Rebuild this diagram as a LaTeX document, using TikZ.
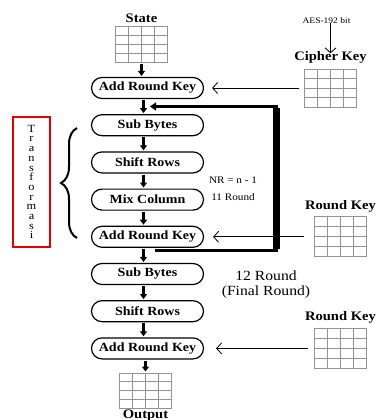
\documentclass[tikz,border=0pt]{standalone}
\usepackage{fontspec}
\setmainfont{Liberation Serif}[FakeStretch=1.12]
\usepackage{tikz}
\usetikzlibrary{arrows.meta,positioning,calc,shapes.misc,decorations.pathreplacing}

\begin{document}
\begin{tikzpicture}[
        x=1pt, y=-1pt,
        node distance=15pt,
        pill/.style={rounded rectangle, draw, line width=1.2pt, minimum width=112pt, minimum height=21pt, inner sep=0pt, font=\fontsize{12.5}{14}\selectfont\bfseries},
        lbl/.style={inner sep=0pt, font=\fontsize{13}{15}\selectfont\bfseries},
        keygrid/.style={draw=gray!85, line width=0.8pt, minimum width=52pt, minimum height=38pt, inner sep=0pt,
            path picture={\foreach \f in {0.25,0.5,0.75}{
                \draw[gray!85, line width=0.8pt] ($(path picture bounding box.south west)!\f!(path picture bounding box.south east)$) -- ($(path picture bounding box.north west)!\f!(path picture bounding box.north east)$);
                \draw[gray!85, line width=0.8pt] ($(path picture bounding box.south west)!\f!(path picture bounding box.north west)$) -- ($(path picture bounding box.south east)!\f!(path picture bounding box.north east)$);}}},
        down/.style={-{Triangle[length=5pt,width=7pt]}, line width=2.2pt, shorten >=1pt, shorten <=1pt},
        keyline/.style={-{Straight Barb[length=5pt,width=11pt]}, line width=0.8pt},
        loopline/.style={line width=3pt, line join=miter}
    ]
        \useasboundingbox (0,0) rectangle (377,420);
        % main column
        \node[pill] (ark1) at (147.5,88) {Add Round Key};
        \node[pill, below=of ark1] (sb1) {Sub Bytes};
        \node[pill, below=of sb1] (sr1) {Shift Rows};
        \node[pill, below=of sr1] (mc) {Mix Column};
        \node[pill, below=of mc] (ark2) {Add Round Key};
        \node[pill, below=of ark2] (sb2) {Sub Bytes};
        \node[pill, below=of sb2] (sr2) {Shift Rows};
        \node[pill, below=of sr2] (ark3) {Add Round Key};
        \node[keygrid, minimum height=36pt, above=14pt of ark1, xshift=-6pt] (sgrid) {};
        \node[lbl, above=3pt of sgrid] (state) {State};
        \node[keygrid, minimum height=35pt, below=13pt of ark3, xshift=-2pt] (ogrid) {};
        \node[lbl, below=1.5pt of ogrid] (output) {Output};
        % keys
        \node[keygrid, right=100pt of ark1] (ckgrid) {};
        \node[lbl, above=5pt of ckgrid] (ckey) {Cipher Key};
        \node[inner sep=0pt, font=\fontsize{8.5}{10}\selectfont, above=28pt of ckey, xshift=-4pt] (aes) {AES-192 bit};
        \node[keygrid, minimum height=40pt, right=110pt of ark2] (rk1grid) {};
        \node[lbl, above=4pt of rk1grid] (rk1) {Round Key};
        \node[keygrid, minimum height=40pt, right=110pt of ark3] (rk2grid) {};
        \node[lbl, above=4pt of rk2grid] (rk2) {Round Key};
        % round notes
        \node[inner sep=0pt, font=\fontsize{10}{12}\selectfont] (nr) at (233,180) {NR = n - 1};
        \node[inner sep=0pt, font=\fontsize{10}{12}\selectfont] (eleven) at (233,197) {11 Round};
        \node[inner sep=0pt, align=center, font=\fontsize{14}{15}\selectfont] (final) at (266,284.5) {12 Round\\(Final Round)};
        \node[draw=red!90!black, line width=2pt, minimum width=37pt, minimum height=130pt, align=center, inner sep=0pt,
            font=\fontsize{11}{9.7}\selectfont] (trans) at (31.5,182) {T\\r\\a\\n\\s\\f\\o\\r\\m\\a\\s\\i};
        \coordinate (brb) at (77,238);
        \coordinate (brt) at (77,128);
        \draw[decorate, decoration={brace, amplitude=16pt, aspect=0.5}, line width=2pt] (brb) -- (brt);
        % arrows
        \draw[down] (sgrid.south) -- (sgrid.south |- ark1.north);
        \foreach \a/\b in {ark1/sb1, sb1/sr1, sr1/mc, mc/ark2, ark2/sb2, sb2/sr2, sr2/ark3}
            \draw[down] ([xshift=-4pt]\a.south) -- ([xshift=-4pt]\b.north);
        \draw[down] (ogrid.north |- ark3.south) -- (ogrid.north);
        \draw[keyline] (aes.south -| ckey.north) -- ([yshift=-2pt]ckey.north);
        \draw[keyline] ([xshift=-5pt]ckgrid.west) -- ([xshift=8pt]ark1.east);
        \draw[keyline] ([xshift=-10pt]rk1grid.west) -- ([xshift=9pt]ark2.east);
        \draw[keyline] ([xshift=-6pt]rk2grid.west) -- ([xshift=12pt]ark3.east);
        % loop back
        \coordinate (lpb) at (155,250);
        \coordinate (lpt) at (150,106.5);
        \coordinate (lpx) at (276,0);
        \draw[loopline, -{Triangle[length=6pt,width=8pt]}] (lpb) -- (lpb -| lpx) -- (lpt -| lpx) -- (lpt);
        \draw[line width=7pt] ([yshift=1.5pt]lpb -| lpx) -- ([yshift=-1.5pt]lpt -| lpx);
    \end{tikzpicture}
\end{document}
